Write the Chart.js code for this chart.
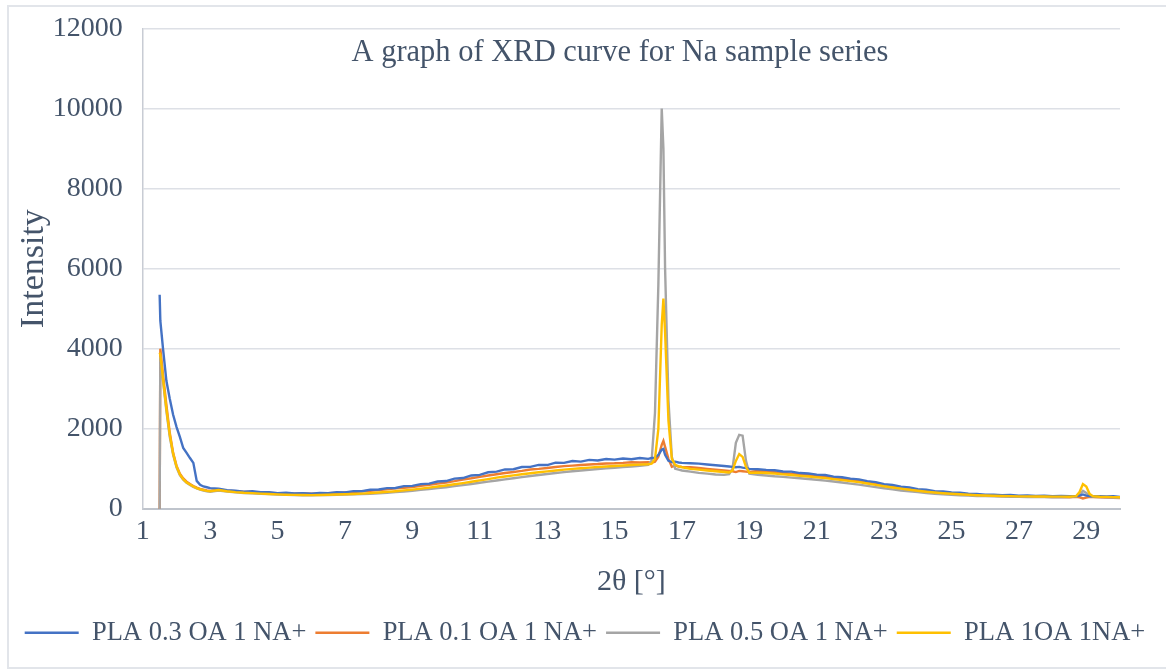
<!DOCTYPE html>
<html>
<head>
<meta charset="utf-8">
<title>XRD curve for Na sample series</title>
<script src="https://cdn.jsdelivr.net/npm/chart.js@4.4.0/dist/chart.umd.min.js"></script>
<style>
  html, body { margin: 0; padding: 0; background: #fff; }
  #wrap { position: relative; width: 1166px; height: 669px; overflow: hidden; }
  #frame { position: absolute; left: 7px; top: 5px; width: 1170px; height: 660px;
           border: 2px solid #e2e5ea; pointer-events: none; }
</style>
</head>
<body>
<div id="wrap">
  <canvas id="xrd" width="1166" height="669"></canvas>
  <div id="frame"></div>
</div>
<script>
// XRD curves for the Na sample series
const chartTitle = 'A graph of XRD curve for Na sample series';
const seriesNames = ['PLA 0.3 OA 1 NA+', 'PLA 0.1 OA 1 NA+', 'PLA 0.5 OA 1 NA+', 'PLA 1OA 1NA+'];
const seriesColors = ['#4472c4', '#ed7d31', '#a5a5a5', '#ffc000'];
const xTicks = [1, 3, 5, 7, 9, 11, 13, 15, 17, 19, 21, 23, 25, 27, 29];
const yTicks = [0, 2000, 4000, 6000, 8000, 10000, 12000];

// 2θ positions (denser around the peaks)
const twoTheta = [
  1.5, 1.52, 1.6, 1.7, 1.8, 1.9, 2.0, 2.1, 2.2, 2.3, 2.4, 2.5, 2.6, 2.7, 2.8, 2.9, 3.0,
  3.25, 3.5, 3.75, 4.0, 4.25, 4.5, 4.75, 5.0, 5.25, 5.5, 5.75, 6.0, 6.25, 6.5, 6.75, 7.0,
  7.25, 7.5, 7.75, 8.0, 8.25, 8.5, 8.75, 9.0, 9.25, 9.5, 9.75, 10.0, 10.25, 10.5, 10.75, 11.0,
  11.25, 11.5, 11.75, 12.0, 12.25, 12.5, 12.75, 13.0, 13.25, 13.5, 13.75, 14.0, 14.25, 14.5, 14.75, 15.0,
  15.25, 15.5, 15.75, 16.0,
  16.1, 16.2, 16.3, 16.4, 16.45, 16.5, 16.6, 16.7, 16.8, 16.9, 17.0,
  17.25, 17.5, 17.75, 18.0, 18.25,
  18.4, 18.5, 18.6, 18.7, 18.8, 18.9, 19.0,
  19.25, 19.5, 19.75, 20.0, 20.25, 20.5, 20.75, 21.0, 21.25, 21.5, 21.75, 22.0,
  22.25, 22.5, 22.75, 23.0, 23.25, 23.5, 23.75, 24.0, 24.25, 24.5, 24.75, 25.0,
  25.25, 25.5, 25.75, 26.0, 26.25, 26.5, 26.75, 27.0, 27.25, 27.5, 27.75, 28.0, 28.25, 28.5,
  28.7, 28.8, 28.9, 29.0, 29.1, 29.2,
  29.4, 29.6, 29.8, 30.0
];

const pla03 = [
  5350, 4700, 4000, 3200, 2750, 2350, 2050, 1800, 1520, 1400, 1270, 1150, 700, 600, 560, 540, 520,
  505, 465, 455, 430, 440, 415, 420, 395, 405, 385, 395, 378, 398, 395, 420, 412,
  445, 440, 480, 485, 520, 522, 570, 575, 620, 630, 685, 695, 755, 770, 835, 850,
  915, 930, 985, 990, 1045, 1050, 1100, 1095, 1155, 1150, 1195, 1180, 1225, 1210, 1245, 1230,
  1260, 1240, 1270, 1250,
  1270, 1280, 1350, 1480, 1500, 1350, 1200, 1170, 1180, 1160, 1150,
  1140, 1130, 1110, 1090, 1070,
  1060, 1050, 1040, 1050, 1030, 1020, 1000,
  990, 975, 965, 935, 930, 895, 885, 855, 845, 805, 790, 755,
  738, 695, 668, 615, 598, 555, 538, 495, 482, 445, 438, 410,
  405, 380, 375, 355, 355, 340, 346, 330, 338, 325, 330, 318, 325, 315,
  320, 330, 360, 330, 320, 315,
  320, 310, 315, 300
];

const pla01 = [
  0, 4000, 3350, 2600, 1900, 1400, 1080, 880, 760, 680, 620, 570, 530, 500, 480, 460, 450,
  480, 455, 440, 425, 425, 405, 400, 392, 385, 380, 383, 378, 382, 392, 400, 410,
  420, 438, 452, 470, 488, 512, 528, 548, 575, 602, 630, 660, 695, 735, 765, 800,
  835, 865, 895, 920, 950, 985, 1000, 1020, 1045, 1068, 1080, 1095, 1110, 1120, 1135, 1140,
  1150, 1165, 1160, 1165,
  1150, 1180, 1300, 1600, 1700, 1550, 1250, 1050, 1080, 1060, 1050,
  1040, 1020, 1000, 980, 960,
  950, 940, 920, 950, 940, 930, 920,
  945, 938, 918, 900, 882, 862, 842, 820, 798, 775, 750, 722,
  695, 660, 625, 590, 558, 525, 495, 468, 445, 422, 402, 388,
  372, 360, 348, 338, 330, 322, 318, 312, 308, 304, 300, 298, 295, 292,
  300, 290, 260, 280, 300, 295,
  290, 285, 280, 270
];

const pla05 = [
  0, 3800, 3200, 2450, 1800, 1350, 1040, 840, 730, 650, 600, 550, 510, 480, 460, 440, 430,
  460, 432, 412, 398, 388, 377, 368, 358, 352, 346, 342, 340, 343, 346, 350, 356,
  362, 370, 380, 392, 405, 420, 436, 454, 474, 495, 518, 542, 568, 595, 623, 652,
  680, 708, 738, 766, 795, 822, 848, 872, 895, 918, 940, 960, 978, 995, 1012, 1028,
  1045, 1060, 1078, 1100,
  1200, 2400, 5600, 10000, 9000, 6000, 2700, 1300, 1000, 980, 960,
  930, 900, 880, 860, 850,
  870, 1000, 1650, 1850, 1830, 1200, 880,
  850, 835, 815, 800, 782, 765, 748, 728, 705, 685, 660, 632,
  605, 575, 545, 515, 488, 460, 438, 418, 398, 380, 366, 352,
  342, 332, 324, 318, 312, 308, 304, 300, 298, 296, 294, 292, 292, 295,
  310, 360, 450, 400, 320, 300,
  295, 290, 285, 280
];

const pla1 = [
  3900, 3850, 3250, 2500, 1850, 1380, 1060, 860, 740, 660, 610, 560, 520, 490, 470, 450, 440,
  470, 440, 420, 405, 395, 382, 372, 362, 355, 350, 347, 345, 348, 352, 358, 365,
  372, 382, 395, 410, 425, 442, 462, 482, 505, 530, 558, 585, 615, 645, 678, 712,
  745, 780, 810, 838, 865, 890, 915, 938, 960, 980, 1000, 1015, 1030, 1045, 1060, 1072,
  1085, 1095, 1105, 1115,
  1130, 1250, 2000, 4600, 5250, 4400, 2200, 1250, 1100, 1060, 1040,
  1000, 980, 960, 940, 920,
  910, 960, 1200, 1370, 1300, 1050, 900,
  905, 895, 880, 862, 845, 825, 808, 788, 768, 745, 720, 695,
  668, 635, 600, 565, 535, 505, 478, 452, 430, 410, 392, 378,
  365, 352, 342, 335, 328, 322, 318, 314, 312, 310, 308, 306, 306, 305,
  320, 420, 620, 560, 370, 315,
  305, 300, 295, 290
];

const seriesValues = [pla03, pla01, pla05, pla1];

const FONT = "'Liberation Serif', 'Times New Roman', serif";
const TEXT = '#44546a';

// title sits inside the plot area, like the Excel original
const innerTitle = {
  id: 'innerTitle',
  afterDraw(chart) {
    const { ctx, chartArea } = chart;
    ctx.save();
    ctx.font = '30.5px ' + FONT;
    ctx.fillStyle = TEXT;
    ctx.textAlign = 'center';
    ctx.textBaseline = 'middle';
    ctx.fillText(chartTitle, chart.width / 2 + 37, chartArea.top + 25);
    ctx.restore();
  }
};

const datasets = seriesNames.map((name, i) => ({
  label: name,
  data: twoTheta.map((x, j) => ({ x: x, y: seriesValues[i][j] })),
  borderColor: seriesColors[i],
  backgroundColor: seriesColors[i],
  borderWidth: 2.4,
  showLine: true,
  pointRadius: 0,
  tension: 0,
  order: [2, 4, 3, 1][i]
}));

new Chart(document.getElementById('xrd'), {
  type: 'scatter',
  data: { datasets },
  options: {
    responsive: false,
    animation: false,
    devicePixelRatio: 1,
    layout: { padding: { top: 0, left: 14, right: 10, bottom: 13 } },
    plugins: {
      tooltip: { enabled: false },
      legend: {
        position: 'bottom',
        labels: {
          font: { family: FONT, size: 26.5 },
          color: TEXT,
          usePointStyle: true,
          pointStyle: 'line',
          pointStyleWidth: 54,
          boxHeight: 10,
          padding: 9,
          sort: (a, b) => a.datasetIndex - b.datasetIndex
        }
      }
    },
    scales: {
      x: {
        type: 'linear',
        min: 1,
        max: 30,
        afterBuildTicks: axis => { axis.ticks = xTicks.map(v => ({ value: v })); },
        ticks: { font: { family: FONT, size: 28 }, color: TEXT, padding: 6, autoSkip: false, maxRotation: 0 },
        grid: { display: false, drawTicks: false },
        border: { display: true, color: '#bfc4cc', width: 2 },
        title: { display: true, text: '2θ [°]', font: { family: FONT, size: 30 }, color: TEXT, padding: { top: 10, bottom: 10 } }
      },
      y: {
        min: 0,
        max: 12000,
        afterBuildTicks: axis => { axis.ticks = yTicks.map(v => ({ value: v })); },
        ticks: { font: { family: FONT, size: 28, lineHeight: 0.6 }, color: TEXT, padding: 20, callback: v => String(v) },
        grid: { color: '#dde0e6', lineWidth: 1.5, drawTicks: false },
        border: { display: true, color: '#c8ccd4', width: 1.5 },
        title: { display: true, text: 'Intensity', font: { family: FONT, size: 34 }, color: TEXT, padding: { top: 0, bottom: -22 } }
      },
      // empty right-hand scale, only reserves the margin right of the plot
      yGap: {
        position: 'right',
        min: 0,
        max: 1,
        display: true,
        ticks: { display: false },
        grid: { display: false, drawTicks: false },
        border: { display: false },
        afterFit: axis => { axis.width = 36; }
      }
    }
  },
  plugins: [innerTitle]
});
</script>
</body>
</html>
